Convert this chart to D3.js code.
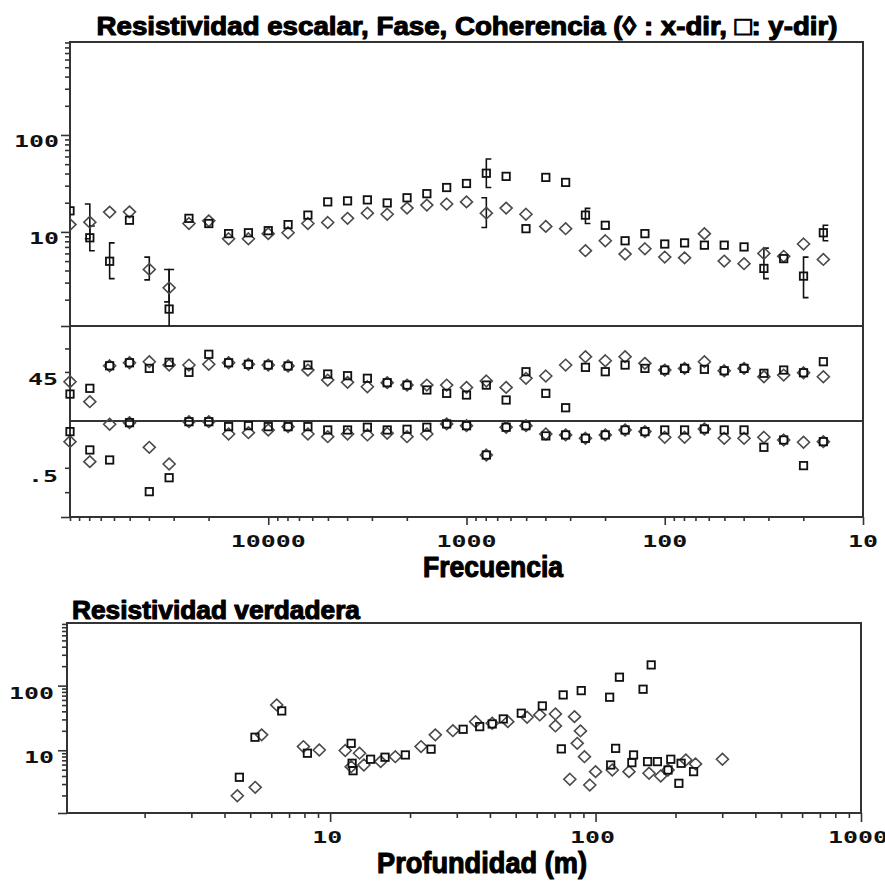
<!DOCTYPE html>
<html lang="es">
<head>
<meta charset="UTF-8">
<title>Resistividad escalar, Fase, Coherencia</title>
<script src="https://d3js.org/d3.v7.min.js"></script>
<style>
  body { margin: 0; background: #fff; }
  svg { display: block; }
  .lbl { font-family: 'DejaVu Sans Mono', monospace; font-weight: bold; font-size: 16px; fill: #111; }
  .ttl { font-family: 'Liberation Sans', Arial, sans-serif; font-weight: bold; fill: #000; stroke: #000; stroke-width: 1.1px; stroke-linejoin: round; }
  .frame { fill: none; stroke: #333; stroke-width: 2; }
  .tick line { stroke: #333; stroke-width: 1.6; }
</style>
</head>
<body>
<svg id="chart" width="885" height="884"></svg>
<script>
// --- frecuencias (Hz) ---
const freqHz = [100000, 79430, 63100, 50120, 39810, 31620, 25120, 19950, 15850, 12590,
  10000, 7943, 6310, 5012, 3981, 3162, 2512, 1995, 1585, 1259,
  1000, 794.3, 631.0, 501.2, 398.1, 316.2, 251.2, 199.5, 158.5, 125.9,
  100, 79.43, 63.10, 50.12, 39.81, 31.62, 25.12, 19.95, 15.85];

// resistividad aparente (ohm-m): x-dir (rombo), y-dir (cuadrado)
const rhoX = [11.9, 12.6, 16.0, 16.1, 4.1, 2.65, 12.2, 13.0, 8.5, 8.5,
  9.6, 9.8, 12.2, 12.5, 13.8, 15.6, 15.2, 17.6, 18.9, 19.4,
  20.4, 15.6, 17.6, 15.2, 11.4, 10.8, 6.4, 8.1, 5.9, 6.7,
  5.5, 5.4, 9.6, 5.0, 4.7, 6.0, 5.6, 7.5, 5.2];
const rhoY = [16.5, 8.7, 4.98, 13.2, null, 1.6, 13.8, 12.2, 9.6, 9.8,
  10.3, 11.9, 14.9, 20.4, 20.9, 21.4, 19.9, 22.5, 24.8, 28.7,
  31.6, 40.3, 37.4, 10.8, 36.5, 32.4, 14.9, 11.7, 8.1, 9.6,
  7.5, 7.7, 7.3, 7.3, 7.0, 4.2, 5.3, 3.5, 9.8];
// barras de error [indice, min, max]
const rhoXErr = [[1, 8.5, 19.4], [4, 3.2, 5.5], [5, 1.9, 4.1], [21, 11.1, 22.5]];
const rhoYErr = [[1, 6.4, 11.5], [2, 3.3, 7.7], [5, 0.8, 4.1], [21, 28.7, 56.5],
  [26, 12.2, 17.5], [35, 3.3, 6.8], [37, 2.1, 5.5], [38, 8.1, 11.7]];

// fase (grados)
const phaseX = [35.6, 16.5, 50.9, 53.8, 54.8, 51.6, 51.6, 52.3, 53.8, 52.3,
  51.6, 50.7, 46.8, 37.2, 35.0, 30.8, 34.7, 32.4, 32.4, 32.4,
  30.2, 36.3, 30.2, 38.9, 41.1, 51.6, 59.6, 55.7, 59.6, 53.2,
  46.8, 48.4, 54.8, 46.1, 48.4, 40.4, 42.0, 44.2, 40.4];
const phaseY = [23.8, 29.3, 50.9, 53.8, 48.4, 54.2, 44.6, 61.9, 53.8, 52.3,
  51.6, 50.7, 51.6, 43.0, 41.4, 38.9, 34.7, 32.4, 27.7, 24.5,
  22.9, 32.4, 18.1, 45.2, 24.5, 10.7, 49.4, 45.2, 51.6, 48.4,
  46.8, 48.4, 47.5, 46.1, 48.4, 43.7, 46.8, 44.2, 54.8];

// coherencia
const cohX = [0.768, 0.563, 0.947, 0.963, 0.710, 0.539, 0.973, 0.973, 0.847, 0.860,
  0.888, 0.922, 0.847, 0.819, 0.847, 0.837, 0.854, 0.819, 0.847, 0.950,
  0.932, 0.631, 0.916, 0.932, 0.847, 0.837, 0.803, 0.837, 0.888, 0.871,
  0.813, 0.813, 0.898, 0.803, 0.803, 0.813, 0.785, 0.762, 0.768];
const cohY = [0.871, 0.683, 0.580, 0.963, 0.255, 0.398, 0.973, 0.973, 0.922, 0.932,
  0.922, 0.922, 0.922, 0.888, 0.888, 0.916, 0.888, 0.895, 0.916, 0.950,
  0.932, 0.631, 0.916, 0.932, 0.827, 0.837, 0.803, 0.837, 0.888, 0.871,
  0.888, 0.888, 0.898, 0.888, 0.888, 0.710, 0.785, 0.522, 0.768];

// resistividad verdadera vs profundidad
const depthX = [4.47, 5.22, 5.52, 6.29, 7.93, 9.1, 11.4, 12.0, 12.9, 13.4, 15.5, 17.6,
  22.0, 24.9, 29.0, 35.3, 40.8, 46.7, 55.2, 61.6, 70.6, 70.6, 83.3, 87.7,
  85.3, 90.8, 100, 80.0, 95.1, 115.6, 133.6, 159, 176, 187.5, 218.8, 238, 300.6];
const trueRhoX = [1.98, 2.67, 17.3, 50.3, 11.4, 10.1, 9.9, 5.57, 9.0, 5.92, 6.67, 7.96,
  11.4, 17.3, 20.1, 27.7, 26.2, 27.7, 32.4, 35.2, 36.5, 23.8, 33.1, 19.9,
  12.8, 7.96, 4.67, 3.56, 2.90, 4.95, 4.67, 4.41, 4.0, 4.95, 7.08, 6.14, 7.26];
const depthY = [4.55, 5.21, 6.57, 8.21, 12.0, 12.1, 12.2, 14.2, 16.1, 19.2, 24.0, 31.7,
  36.6, 40.8, 44.9, 52.5, 63.0, 75.5, 88.3, 74.3, 113, 123, 151, 162,
  119, 114, 137, 139, 157, 171, 187.5, 192, 210, 206, 234];
const trueRhoY = [3.82, 15.9, 40.6, 9.0, 12.8, 6.29, 4.83, 7.26, 7.8, 8.46, 10.4, 21.1,
  23.2, 25.5, 30.5, 37.4, 48.5, 71.8, 83.7, 10.5, 66.1, 134.9, 87.9, 209,
  10.7, 5.92, 6.43, 8.46, 6.67, 6.67, 4.95, 7.26, 6.29, 3.08, 4.67];

// ejes: valores y etiquetas
const rhoTicks = [10, 100], rhoTickLabels = ["10", "100"];
const freqTicks = [10000, 1000, 100, 10], freqTickLabels = ["10000", "1000", "100", "10"];
const phaseTicks = [67.5, 45], phaseLabelVals = [45], phaseLabels = ["45"];
const cohTicks = [0.5, 0.25, 0], cohLabelVals = [0.5], cohLabels = [".5"];
const depthTicks = [10, 100, 1000], depthTickLabels = ["10", "100", "1000"];

const svg = d3.select("#chart");

// --- escalas ---
const L = 70, R = 863, T = 42, D1 = 326, D2 = 421, B = 517;
const xF = d3.scaleLog().domain([100000, 10]).range([L, R]);
const yR = d3.scaleLog().domain([1.07, 910]).range([D1, T]);
const yP = d3.scaleLinear().domain([-2, 89]).range([D2, D1]);
const yC = d3.scaleLinear().domain([-0.005, 0.98]).range([B, D2]);

const L2 = 67, R2 = 861, T2 = 623, B2 = 813;
const xD = d3.scaleLog().domain([1.02, 1000]).range([L2, R2]);
const yT = d3.scaleLog().domain([1.07, 930]).range([B2, T2]);

// --- utilidades ---
function monoLabel(x, y, s, anchor) {
  const w = s.length * 15;
  const x0 = anchor === "end" ? x - w : anchor === "middle" ? x - w / 2 : x;
  svg.append("text").attr("class", "lbl")
    .attr("x", x0).attr("y", y)
    .attr("textLength", w).attr("lengthAdjust", "spacingAndGlyphs")
    .text(s);
}
function boldTitle(x, y, s, size, width, anchor) {
  svg.append("text").attr("class", "ttl")
    .attr("x", anchor === "middle" ? x - width / 2 : x).attr("y", y)
    .style("font-size", size + "px")
    .attr("textLength", width).attr("lengthAdjust", "spacingAndGlyphs")
    .text(s);
}
function axis(gen, tx, ty) {
  const g = svg.append("g").attr("transform", `translate(${tx},${ty})`).call(gen);
  g.select(".domain").remove();
  return g;
}
function diamonds(g, data) {
  g.selectAll(null).data(data).join("path")
    .attr("d", "M0,-5.8L6,0L0,5.8L-6,0Z")
    .attr("transform", d => `translate(${d[0]},${d[1]})`)
    .attr("fill", "none").attr("stroke", "#4a4a4a").attr("stroke-width", 1.6);
}
function squares(g, data) {
  g.selectAll(null).data(data).join("rect")
    .attr("x", d => d[0] - 3.7).attr("y", d => d[1] - 3.7)
    .attr("width", 7.4).attr("height", 7.4)
    .attr("fill", "none").attr("stroke", "#111").attr("stroke-width", 1.8);
}
function errBars(g, data, side) {
  data.forEach(e => {
    const x = xF(freqHz[e[0]]), y0 = yR(e[1]), y1 = yR(e[2]);
    const c = side * 5;
    g.append("path")
      .attr("d", `M${x + c},${y1}H${x}V${y0}H${x + c}`)
      .attr("fill", "none").attr("stroke", "#111").attr("stroke-width", 1.6);
  });
}

// --- títulos ---
boldTitle(467, 35, "Resistividad escalar, Fase, Coherencia (\u25CA : x-dir,  \u25A1: y-dir)", 26, 741, "middle");
boldTitle(493, 577, "Frecuencia", 29, 140, "middle");
boldTitle(72, 619, "Resistividad verdadera", 26, 288, "start");
boldTitle(482, 873, "Profundidad (m)", 29, 210, "middle");

// --- panel superior: ejes ---
axis(d3.axisLeft(yR).tickValues(yR.ticks().filter(v => !rhoTicks.includes(v))).tickSize(5).tickFormat(""), L, 0);
axis(d3.axisLeft(yR).tickValues(rhoTicks.concat([1.07])).tickSize(9).tickFormat(""), L, 0);
rhoTicks.forEach((v, i) => monoLabel(L - 11, yR(v) + 12, rhoTickLabels[i], "end"));

axis(d3.axisLeft(yP).tickValues(phaseTicks).tickSize(5).tickFormat(""), L, 0);
phaseLabelVals.forEach((v, i) => monoLabel(L - 12, yP(v) + 13, phaseLabels[i], "end"));
axis(d3.axisLeft(yC).tickValues(cohTicks.slice(0, 2)).tickSize(5).tickFormat(""), L, 0);
axis(d3.axisLeft(yC).tickValues([-0.005]).tickSize(9).tickFormat(""), L, 0);
cohLabelVals.forEach((v, i) => monoLabel(L - 12, yC(v) + 14, cohLabels[i], "end"));

axis(d3.axisBottom(xF).tickValues(xF.ticks().filter(v => !freqTicks.includes(v))).tickSize(4).tickFormat(""), 0, B);
axis(d3.axisBottom(xF).tickValues(freqTicks).tickSize(8).tickFormat(""), 0, B);
freqTicks.forEach((v, i) => monoLabel(xF(v), 547, freqTickLabels[i], "middle"));

svg.append("rect").attr("class", "frame").attr("x", L).attr("y", T).attr("width", R - L).attr("height", B - T);
svg.append("line").attr("class", "frame").attr("x1", L).attr("x2", R).attr("y1", D1).attr("y2", D1);
svg.append("line").attr("class", "frame").attr("x1", L).attr("x2", R).attr("y1", D2).attr("y2", D2);

// --- panel superior: datos ---
svg.append("clipPath").attr("id", "clipR").append("rect")
  .attr("x", L).attr("y", T).attr("width", R - L).attr("height", D1 - T);
const gR = svg.append("g").attr("clip-path", "url(#clipR)");
errBars(gR, rhoXErr, -1);
errBars(gR, rhoYErr, 1);
diamonds(gR, freqHz.map((f, i) => [xF(f), yR(rhoX[i])]));
squares(gR, freqHz.map((f, i) => [f, rhoY[i]]).filter(d => d[1] != null).map(d => [xF(d[0]), yR(d[1])]));

const gP = svg.append("g");
diamonds(gP, freqHz.map((f, i) => [xF(f), yP(phaseX[i])]));
squares(gP, freqHz.map((f, i) => [xF(f), yP(phaseY[i])]));
diamonds(gP, freqHz.map((f, i) => [xF(f), yC(cohX[i])]));
squares(gP, freqHz.map((f, i) => [xF(f), yC(cohY[i])]));

// --- panel inferior ---
axis(d3.axisLeft(yT).tickValues(yT.ticks().filter(v => ![10, 100].includes(v))).tickSize(5).tickFormat(""), L2, 0);
axis(d3.axisLeft(yT).tickValues([10, 100, 1.07]).tickSize(9).tickFormat(""), L2, 0);
rhoTicks.forEach((v, i) => monoLabel(L2 - 13, yT(v) + 13, rhoTickLabels[i], "end"));

axis(d3.axisBottom(xD).tickValues(xD.ticks().filter(v => !depthTicks.includes(v))).tickSize(5).tickFormat(""), 0, B2);
axis(d3.axisBottom(xD).tickValues(depthTicks).tickSize(9).tickFormat(""), 0, B2);
depthTicks.forEach((v, i) => monoLabel(xD(v) - 3, 843, depthTickLabels[i], "middle"));

svg.append("rect").attr("class", "frame").attr("x", L2).attr("y", T2).attr("width", R2 - L2).attr("height", B2 - T2);

const gT = svg.append("g");
diamonds(gT, depthX.map((d, i) => [xD(d), yT(trueRhoX[i])]));
squares(gT, depthY.map((d, i) => [xD(d), yT(trueRhoY[i])]));
</script>
</body>
</html>
